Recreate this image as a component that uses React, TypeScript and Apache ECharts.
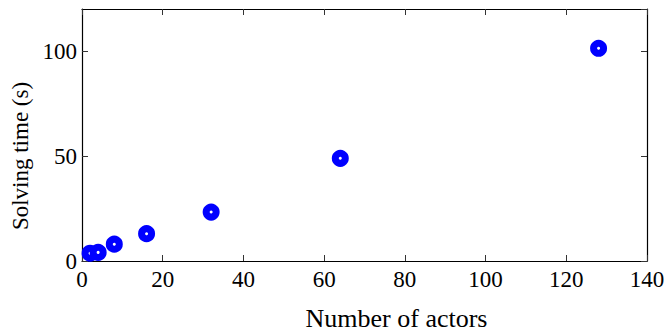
import React, { useEffect, useRef } from "react";
import * as echarts from "echarts";

const actors = [2, 4, 8, 16, 32, 64, 128];
const solvingTime = [3.7, 4.1, 8.0, 13.0, 23.3, 48.9, 101.3];
const xTicks = { min: 0, max: 140, interval: 20 };
const yTicks = { min: 0, max: 120, interval: 50 };

const FONT = "Liberation Serif";

export default function App() {
  const ref = useRef<HTMLDivElement>(null);
  useEffect(() => {
    if (!ref.current) return;
    const chart = echarts.init(ref.current, undefined, { renderer: "svg" });
    const axisLine = { show: true, onZero: false, lineStyle: { color: "#000", width: 1.2 } };
    const tick = { show: true, inside: true, length: 6, lineStyle: { color: "#333", width: 1 } };
    chart.setOption({
      animation: false,
      backgroundColor: "#fff",
      textStyle: { fontFamily: FONT },
      grid: { left: 82, right: 20, top: 9, bottom: 70, containLabel: false, outerBoundsMode: "none" },
      xAxis: [
        {
          type: "value",
          min: xTicks.min,
          max: xTicks.max,
          interval: xTicks.interval,
          position: "bottom",
          name: "Number of actors",
          nameLocation: "middle",
          nameGap: 44,
          nameTextStyle: { fontFamily: FONT, fontSize: 26, color: "#000", padding: [0, 0, 0, 64] },
          axisLine,
          axisTick: tick,
          splitLine: { show: false },
          axisLabel: { fontFamily: FONT, fontSize: 23, color: "#000", margin: 7 },
        },
        {
          type: "value",
          min: xTicks.min,
          max: xTicks.max,
          interval: xTicks.interval,
          position: "top",
          axisLine,
          axisTick: tick,
          splitLine: { show: false },
          axisLabel: { show: false },
        },
      ],
      yAxis: [
        {
          type: "value",
          min: yTicks.min,
          max: yTicks.max,
          interval: yTicks.interval,
          position: "left",
          name: "Solving time (s)",
          nameLocation: "middle",
          nameGap: 47,
          nameRotate: 90,
          nameTextStyle: { fontFamily: FONT, fontSize: 23, color: "#000", padding: [0, 42, 0, 0] },
          axisLine,
          axisTick: tick,
          splitLine: { show: false },
          axisLabel: { fontFamily: FONT, fontSize: 23, color: "#000", margin: 5, showMaxLabel: false },
        },
        {
          type: "value",
          min: yTicks.min,
          max: yTicks.max,
          interval: yTicks.interval,
          position: "right",
          axisLine,
          axisTick: tick,
          splitLine: { show: false },
          axisLabel: { show: false },
        },
      ],
      series: [
        {
          type: "scatter",
          data: actors.map((a, i) => [a, solvingTime[i]]),
          symbol: "circle",
          symbolSize: 10,
          itemStyle: { color: "#fff", borderColor: "#0000ff", borderWidth: 7, opacity: 1 },
          clip: false,
        },
      ],
    });
    return () => chart.dispose();
  }, []);
  return <div ref={ref} style={{ width: 667, height: 331, position: "absolute", left: 0, top: 0 }} />;
}
